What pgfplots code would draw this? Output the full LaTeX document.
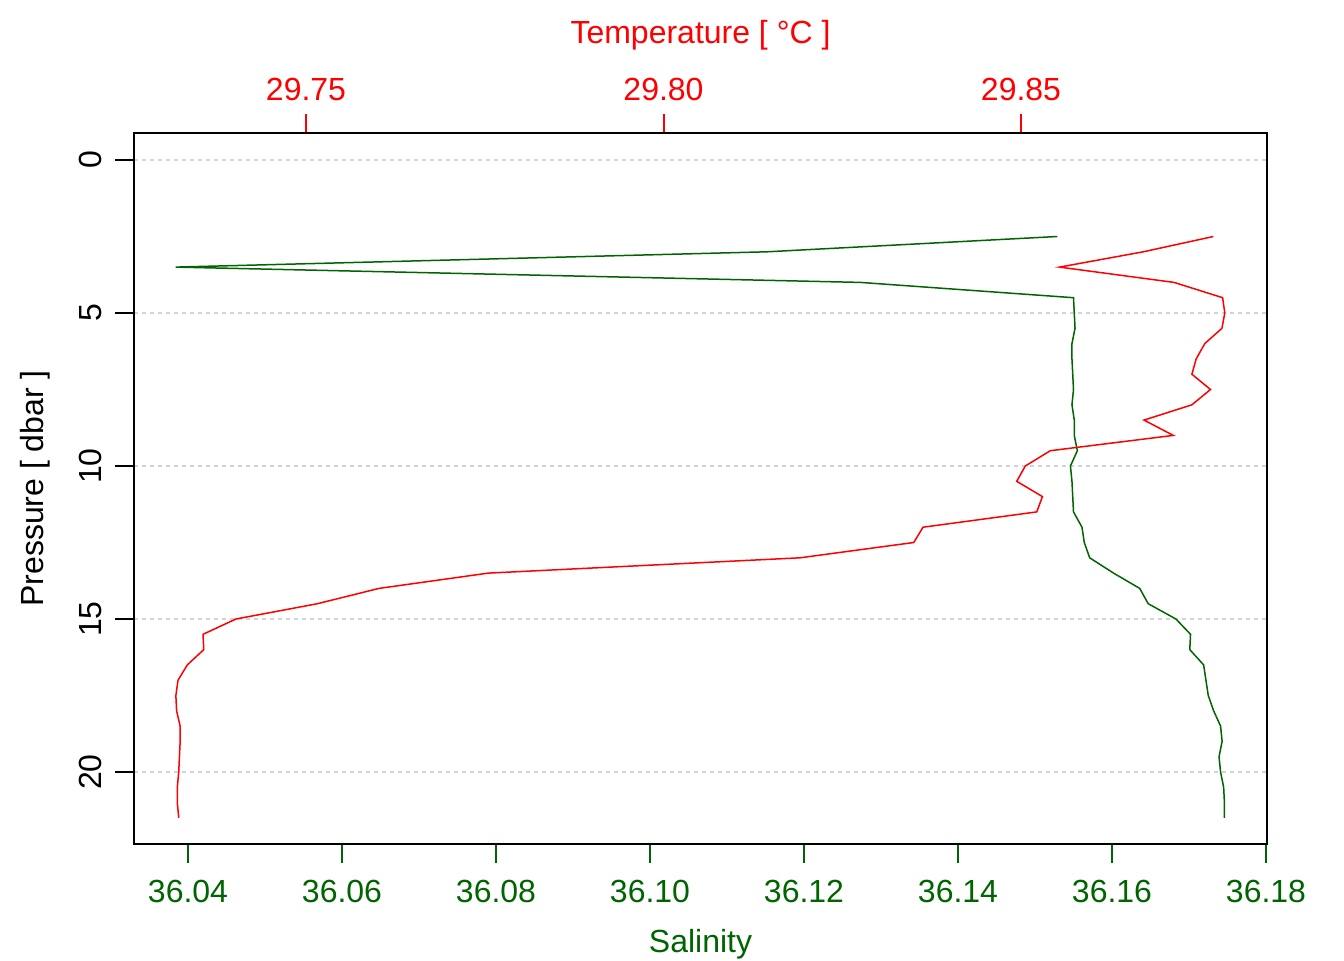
\documentclass[border=0pt]{standalone}
\usepackage{fontspec}
\setmainfont{Liberation Sans}
\usepackage{pgfplots}
\usepackage{pgfplotstable}
\pgfplotsset{compat=1.18}
\definecolor{dgreen}{HTML}{006400}
\definecolor{rred}{HTML}{FF0000}
\definecolor{lgray}{HTML}{D3D3D3}
\pgfplotstableread{
p S
2.5 36.1529
3.0 36.1152
3.5 36.0384
4.0 36.1273
4.5 36.1550
5.0 36.1551
5.5 36.1552
6.0 36.1548
6.5 36.1548
7.0 36.1549
7.5 36.1550
8.0 36.1548
8.5 36.1551
9.0 36.1551
9.5 36.1555
10.0 36.1546
10.5 36.1548
11.0 36.1549
11.5 36.1550
12.0 36.1561
12.5 36.1564
13.0 36.1571
13.5 36.1602
14.0 36.1636
14.5 36.1647
15.0 36.1683
15.5 36.1702
16.0 36.1701
16.5 36.1719
17.0 36.1722
17.5 36.1725
18.0 36.1732
18.5 36.1741
19.0 36.1743
19.5 36.1739
20.0 36.1741
20.5 36.1745
21.0 36.1746
21.5 36.1746
}\saltab
\pgfplotstableread{
p T
2.5 29.8769
3.0 29.8671
3.5 29.8554
4.0 29.8714
4.5 29.8782
5.0 29.8785
5.5 29.8781
6.0 29.8757
6.5 29.8745
7.0 29.8739
7.5 29.8765
8.0 29.8739
8.5 29.8672
9.0 29.8713
9.5 29.8541
10.0 29.8506
10.5 29.8494
11.0 29.8530
11.5 29.8522
12.0 29.8363
12.5 29.8350
13.0 29.8191
13.5 29.7755
14.0 29.7602
14.5 29.7516
15.0 29.7402
15.5 29.7356
16.0 29.7357
16.5 29.7334
17.0 29.7321
17.5 29.7318
18.0 29.7319
18.5 29.7324
19.0 29.7324
19.5 29.7323
20.0 29.7322
20.5 29.7320
21.0 29.7320
21.5 29.7322
}\temtab
\begin{document}
\begin{tikzpicture}
\useasboundingbox (-67pt,-58pt) rectangle (605pt,422pt);
\pgfplotsset{
  common/.style={
    scale only axis, width=566.5pt, height=355.5pt,
    at={(0,0)}, anchor=south west,
    ymin=-0.882, ymax=22.353, y dir=reverse,
    tick align=outside, major tick length=9.5pt,
    axis line style={black, line width=1pt},
    /pgf/number format/assume math mode=true,
    tick label style={font=\fontsize{16}{19}\selectfont},
    label style={font=\fontsize{16}{19}\selectfont},
  }
}
\begin{axis}[common,
  xmin=36.032987, xmax=36.180130,
  xtick={36.04,36.06,36.08,36.10,36.12,36.14,36.16,36.18},
  xticklabel={\pgfmathprintnumber[fixed,fixed zerofill,precision=2]{\tick}},
  scaled x ticks=false,
  xtick pos=lower, ytick pos=left,
  ytick={0,5,10,15,20},
  x tick style={dgreen, line width=0.85pt},
  y tick style={black, line width=0.85pt},
  xticklabel style={dgreen, anchor=base, yshift=-19.75pt},
  yticklabel style={black, xshift=-7pt, anchor=base, rotate=90},
  ymajorgrids,
  major grid style={lgray, line width=0.8pt, dash pattern=on 2pt off 2pt},
  xlabel={Salinity},
  xlabel style={dgreen, at={(axis description cs:0.5,0)}, anchor=base, yshift=-54pt},
  ylabel={Pressure [ dbar ]},
  ylabel style={black, at={(axis description cs:-0.0803,0.5)}, anchor=base},
]
\addplot[dgreen, line width=0.75pt, mark=none] table[x=S, y=p] {\saltab};
\end{axis}
\begin{axis}[common,
  xmin=29.725944, xmax=29.884406,
  xtick={29.75,29.80,29.85},
  xticklabel={\pgfmathprintnumber[fixed,fixed zerofill,precision=2]{\tick}},
  scaled x ticks=false,
  xtick pos=upper, xticklabel pos=upper,
  ytick=\empty,
  x tick style={rred, line width=1pt},
  xticklabel style={rred, anchor=base, yshift=6.75pt},
  xlabel={Temperature [ °C ]},
  xlabel style={rred, at={(axis description cs:0.5,1)}, anchor=base, yshift=45pt},
]
\addplot[rred, line width=0.75pt, mark=none] table[x=T, y=p] {\temtab};
\end{axis}
\end{tikzpicture}
\end{document}
